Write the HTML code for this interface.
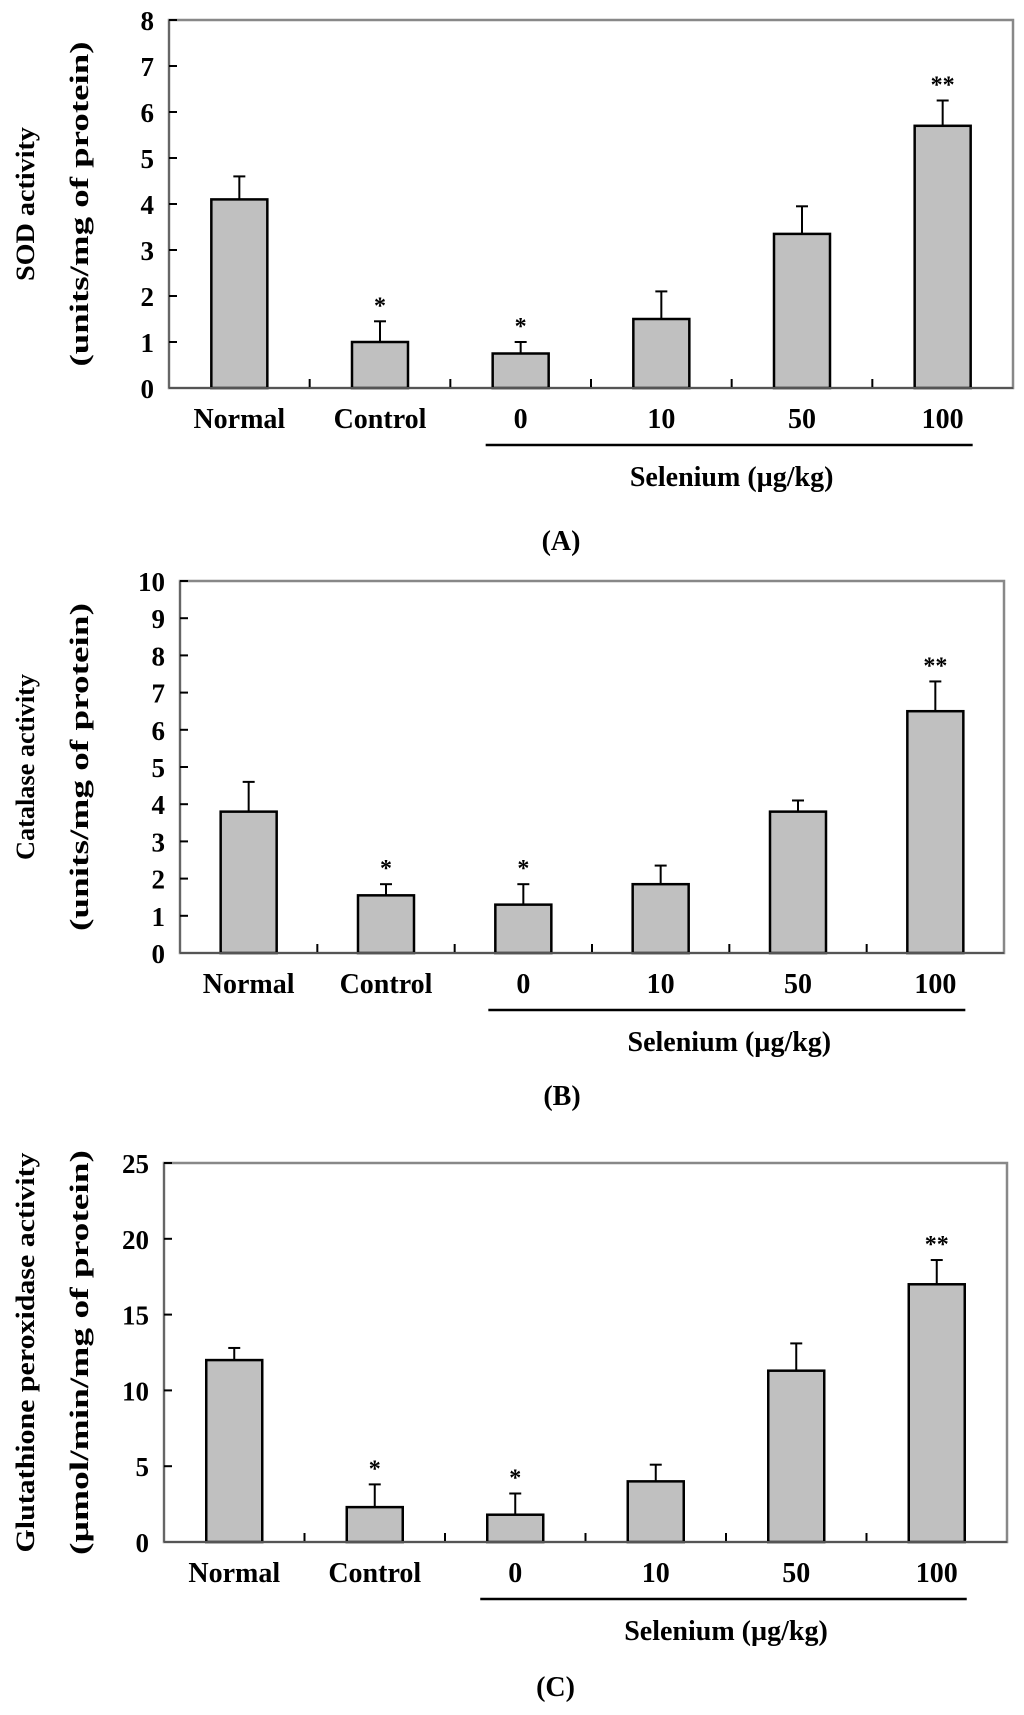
<!DOCTYPE html>
<html><head><meta charset="utf-8"><style>
html,body{margin:0;padding:0;background:#fff}
svg{display:block}
text{font-family:"Liberation Serif",serif;font-weight:bold;fill:#000}
</style></head><body>
<svg id="fig" width="1024" height="1715" viewBox="0 0 1024 1715" xmlns="http://www.w3.org/2000/svg"></svg>
<script>
const categories = ["Normal","Control","0","10","50","100"];
const sodValues = [4.1,1.0,0.75,1.5,3.35,5.7];
const sodErrors = [4.6,1.45,1.0,2.1,3.95,6.25];
const catValues = [3.8,1.55,1.3,1.85,3.8,6.5];
const catErrors = [4.6,1.85,1.85,2.35,4.1,7.3];
const gpxValues = [12,2.3,1.8,4.0,11.3,17.0];
const gpxErrors = [12.8,3.8,3.2,5.1,13.1,18.6];
const stars = ["","*","*","","","**"];
const sodTicks = [0,1,2,3,4,5,6,7,8];
const catTicks = [0,1,2,3,4,5,6,7,8,9,10];
const gpxTicks = [0,5,10,15,20,25];

const NS="http://www.w3.org/2000/svg";
const svg=document.getElementById('fig');
function mk(tag,attrs,parent){const e=document.createElementNS(NS,tag);for(const k in attrs)e.setAttribute(k,attrs[k]);(parent||svg).appendChild(e);return e;}

function panel(id,box,ticks,vals,errs,t1,t2,t1len,t2len,letter,letterDy){
  const g=mk('g',{});
  
  
  const {l,r,t,b}=box;const max=ticks[ticks.length-1];
  const y=v=>b-(v/max)*(b-t);
  const slot=(r-l)/categories.length;
  const xc=i=>l+slot*(i+0.5);
  const bw=56;
  const frame=mk('rect',{x:l,y:t,width:r-l,height:b-t,fill:'none',stroke:'#888','stroke-width':2.5},g);
  
  
  mk('line',{x1:l,y1:t,x2:l,y2:b,stroke:'#666','stroke-width':2},g);
  ticks.forEach(tv=>{
    const tk=mk('line',{x1:l,y1:y(tv),x2:l+8,y2:y(tv),stroke:'#000','stroke-width':2},g);
    
    
    const tl=mk('text',{x:l-15,y:y(tv)+10,'text-anchor':'end','font-size':27},g);
    tl.textContent=tv;
    
    
  });
  for(let i=1;i<categories.length;i++){
    const xt=l+slot*i;
    const m=mk('line',{x1:xt,y1:b,x2:xt,y2:b-9,stroke:'#000','stroke-width':2},g);
    
    
  }
  categories.forEach((c,i)=>{
    const ex=xc(i);
    const el=mk('line',{x1:ex,y1:y(vals[i]),x2:ex,y2:y(errs[i]),stroke:'#000','stroke-width':2},g);
    
    
    const cap=mk('line',{x1:ex-6,y1:y(errs[i]),x2:ex+6,y2:y(errs[i]),stroke:'#000','stroke-width':2},g);
    
    
    const bar=mk('rect',{x:ex-bw/2,y:y(vals[i]),width:bw,height:b-y(vals[i]),fill:'#c0c0c0',stroke:'#000','stroke-width':2.5},g);
    
    
    if(stars[i]){
      const s=mk('text',{x:ex,y:y(errs[i])-8,'text-anchor':'middle','font-size':24},g);
      s.textContent=stars[i];
      
      
    }
    const lb=mk('text',{x:ex,y:b+40,'text-anchor':'middle','font-size':28},g);
    lb.textContent=c;
    
    
  });
  mk('line',{x1:l,y1:b,x2:r,y2:b,stroke:'#555','stroke-width':2},g);
  const sl=mk('line',{x1:xc(2)-35,y1:b+57,x2:xc(5)+30,y2:b+57,stroke:'#000','stroke-width':2.5},g);
  
  
  const st=mk('text',{x:(xc(2)+xc(5))/2,y:b+98,'text-anchor':'middle','font-size':28},g);
  st.textContent='Selenium (µg/kg)';
  
  
  const ym=(t+b)/2;
  const a1=mk('text',{x:0,y:0,'text-anchor':'middle','font-size':26,transform:`translate(34,${ym}) rotate(-90)`,textLength:t1len,lengthAdjust:'spacingAndGlyphs'},g);
  a1.textContent=t1;
  
  
  const a2=mk('text',{x:0,y:0,'text-anchor':'middle','font-size':26,transform:`translate(88,${ym}) rotate(-90)`,textLength:t2len,lengthAdjust:'spacingAndGlyphs'},g);
  a2.textContent=t2;
  
  
  const pl=mk('text',{x:(l+r)/2-30,y:b+letterDy,'text-anchor':'middle','font-size':28},g);
  pl.textContent='('+letter+')';
  
  
}
panel('a',{l:169,r:1013,t:20,b:388},sodTicks,sodValues,sodErrors,'SOD activity','(units/mg of protein)',154,325,'A',162);
panel('b',{l:180,r:1004,t:581,b:953},catTicks,catValues,catErrors,'Catalase activity','(units/mg of protein)',186,328,'B',152);
panel('c',{l:164,r:1007,t:1163,b:1542},gpxTicks,gpxValues,gpxErrors,'Glutathione peroxidase activity','(µmol/min/mg of protein)',400,405,'C',154);
</script>
</body></html>
